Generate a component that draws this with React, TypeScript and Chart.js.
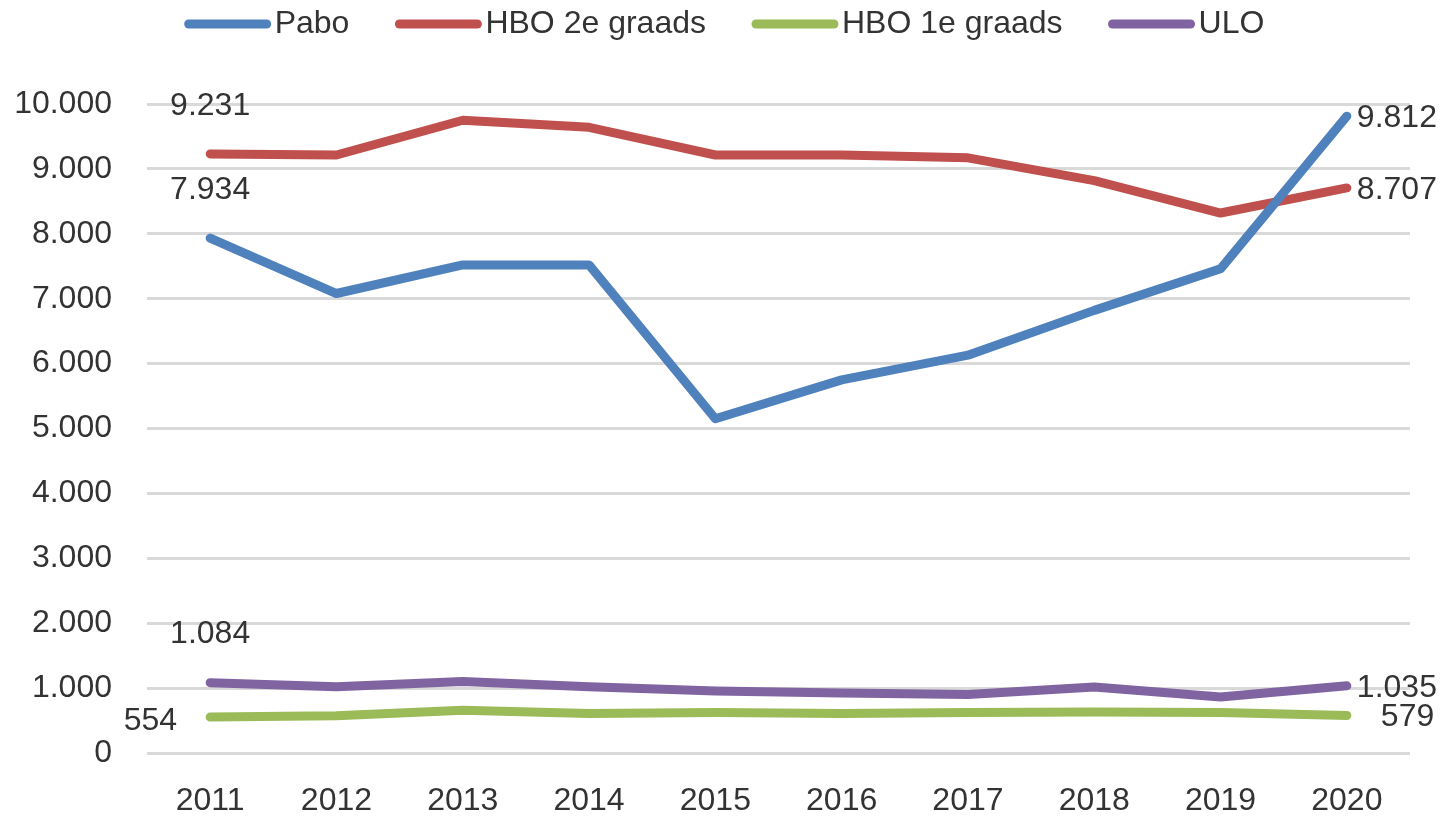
import React, { useEffect, useRef } from 'react';
import { Chart, registerables } from 'chart.js';

Chart.register(...registerables);

// ---- data ----
const years = ['2011', '2012', '2013', '2014', '2015', '2016', '2017', '2018', '2019', '2020'];
const pabo = [7934, 7080, 7520, 7520, 5150, 5750, 6130, 6820, 7460, 9812];
const hbo2 = [9231, 9214, 9750, 9640, 9214, 9214, 9170, 8820, 8320, 8707];
const hbo1 = [554, 575, 660, 610, 625, 610, 625, 630, 625, 579];
const ulo = [1084, 1020, 1100, 1020, 955, 925, 900, 1017, 863, 1035];
const seriesNames = ['Pabo', 'HBO 2e graads', 'HBO 1e graads', 'ULO'];
const seriesColors = ['#4F81BD', '#C0504D', '#9BBB59', '#8064A2'];
const yMin = 0;
const yMax = 10000;
const yStep = 1000;

const FONT = '"Liberation Sans", Arial, sans-serif';
const FONT_SIZE = 32;
const TEXT_COLOR = '#333333';

function fmt(n: number): string {
  return String(Math.round(n)).replace(/\B(?=(\d{3})+(?!\d))/g, '.');
}

type LabelRule = { ds: number; idx: number; mode: 'above' | 'left' | 'right' | 'rightFar' };
const labelRules: LabelRule[] = [
  { ds: 0, idx: 0, mode: 'above' },
  { ds: 1, idx: 0, mode: 'above' },
  { ds: 3, idx: 0, mode: 'above' },
  { ds: 2, idx: 0, mode: 'left' },
  { ds: 0, idx: 9, mode: 'right' },
  { ds: 1, idx: 9, mode: 'right' },
  { ds: 3, idx: 9, mode: 'right' },
  { ds: 2, idx: 9, mode: 'rightFar' },
];

const dataLabelPlugin = {
  id: 'customDataLabels',
  afterDatasetsDraw(chart: any) {
    const ctx = chart.ctx as CanvasRenderingContext2D;
    ctx.save();
    ctx.font = `${FONT_SIZE}px ${FONT}`;
    ctx.fillStyle = TEXT_COLOR;
    ctx.textBaseline = 'middle';
    labelRules.forEach((r) => {
      const meta = chart.getDatasetMeta(r.ds);
      const pt = meta.data[r.idx];
      if (!pt) return;
      const v = chart.data.datasets[r.ds].data[r.idx] as number;
      const text = fmt(v);
      let x = pt.x;
      let y = pt.y;
      if (r.mode === 'above') {
        ctx.textAlign = 'center';
        y = pt.y - 48;
      } else if (r.mode === 'left') {
        ctx.textAlign = 'right';
        x = pt.x - 33;
        y = pt.y + 4;
      } else if (r.mode === 'right') {
        ctx.textAlign = 'left';
        x = pt.x + 10;
        y = pt.y + 2;
      } else {
        ctx.textAlign = 'left';
        x = pt.x + 34;
        y = pt.y + 2;
      }
      ctx.fillText(text, x, y);
    });
    ctx.restore();
  },
};

const legendPlugin = {
  id: 'customLegend',
  afterDraw(chart: any) {
    const ctx = chart.ctx as CanvasRenderingContext2D;
    ctx.save();
    ctx.font = `${FONT_SIZE}px ${FONT}`;
    const sample = 86;
    const textGap = 4;
    const itemGap = 46;
    const widths = chart.data.datasets.map((d: any) => ctx.measureText(d.label).width);
    const total =
      widths.reduce((a: number, w: number) => a + sample + textGap + w, 0) + itemGap * (widths.length - 1);
    let x = (chart.width - total) / 2;
    const y = 24;
    chart.data.datasets.forEach((d: any, i: number) => {
      ctx.strokeStyle = d.borderColor;
      ctx.lineWidth = 9;
      ctx.lineCap = 'round';
      ctx.beginPath();
      ctx.moveTo(x + 4, y);
      ctx.lineTo(x + sample - 4, y);
      ctx.stroke();
      ctx.fillStyle = TEXT_COLOR;
      ctx.textAlign = 'left';
      ctx.textBaseline = 'middle';
      ctx.fillText(d.label, x + sample + textGap, y);
      x += sample + textGap + widths[i] + itemGap;
    });
    ctx.restore();
  },
};

export default function App() {
  const canvasRef = useRef<HTMLCanvasElement | null>(null);

  useEffect(() => {
    document.body.style.margin = '0';
    const canvas = canvasRef.current;
    if (!canvas) return;
    const seriesData = [pabo, hbo2, hbo1, ulo];
    const chart = new Chart(canvas, {
      type: 'line',
      data: {
        labels: years,
        datasets: seriesData.map((d, i) => ({
          label: seriesNames[i],
          data: d,
          borderColor: seriesColors[i],
          backgroundColor: seriesColors[i],
          borderWidth: 9,
          borderCapStyle: 'round' as const,
          borderJoinStyle: 'round' as const,
          pointRadius: 0,
          pointHoverRadius: 0,
          tension: 0,
          fill: false,
        })),
      },
      options: {
        animation: false,
        responsive: true,
        maintainAspectRatio: false,
        layout: { padding: { top: 104, left: 14, right: 39, bottom: 0 } },
        plugins: {
          legend: { display: false },
          tooltip: { enabled: false },
        },
        scales: {
          x: {
            offset: true,
            grid: { display: false },
            border: { display: false },
            afterFit: (s: any) => {
              s.height = 63;
            },
            ticks: {
              padding: 26,
              color: TEXT_COLOR,
              font: { family: FONT, size: FONT_SIZE, lineHeight: 0.9 },
              maxRotation: 0,
            },
          },
          y: {
            min: yMin,
            max: yMax,
            grid: { color: '#D9D9D9', lineWidth: 3, drawTicks: false },
            border: { display: false },
            afterFit: (s: any) => {
              s.width = 133;
            },
            ticks: {
              stepSize: yStep,
              padding: 35,
              color: TEXT_COLOR,
              font: { family: FONT, size: FONT_SIZE },
              callback: (v: any) => fmt(Number(v)),
            },
          },
        },
      },
      plugins: [dataLabelPlugin, legendPlugin],
    });
    return () => chart.destroy();
  }, []);

  return (
    <div style={{ position: 'relative', width: '1449px', height: '816px' }}>
      <canvas ref={canvasRef} />
    </div>
  );
}
